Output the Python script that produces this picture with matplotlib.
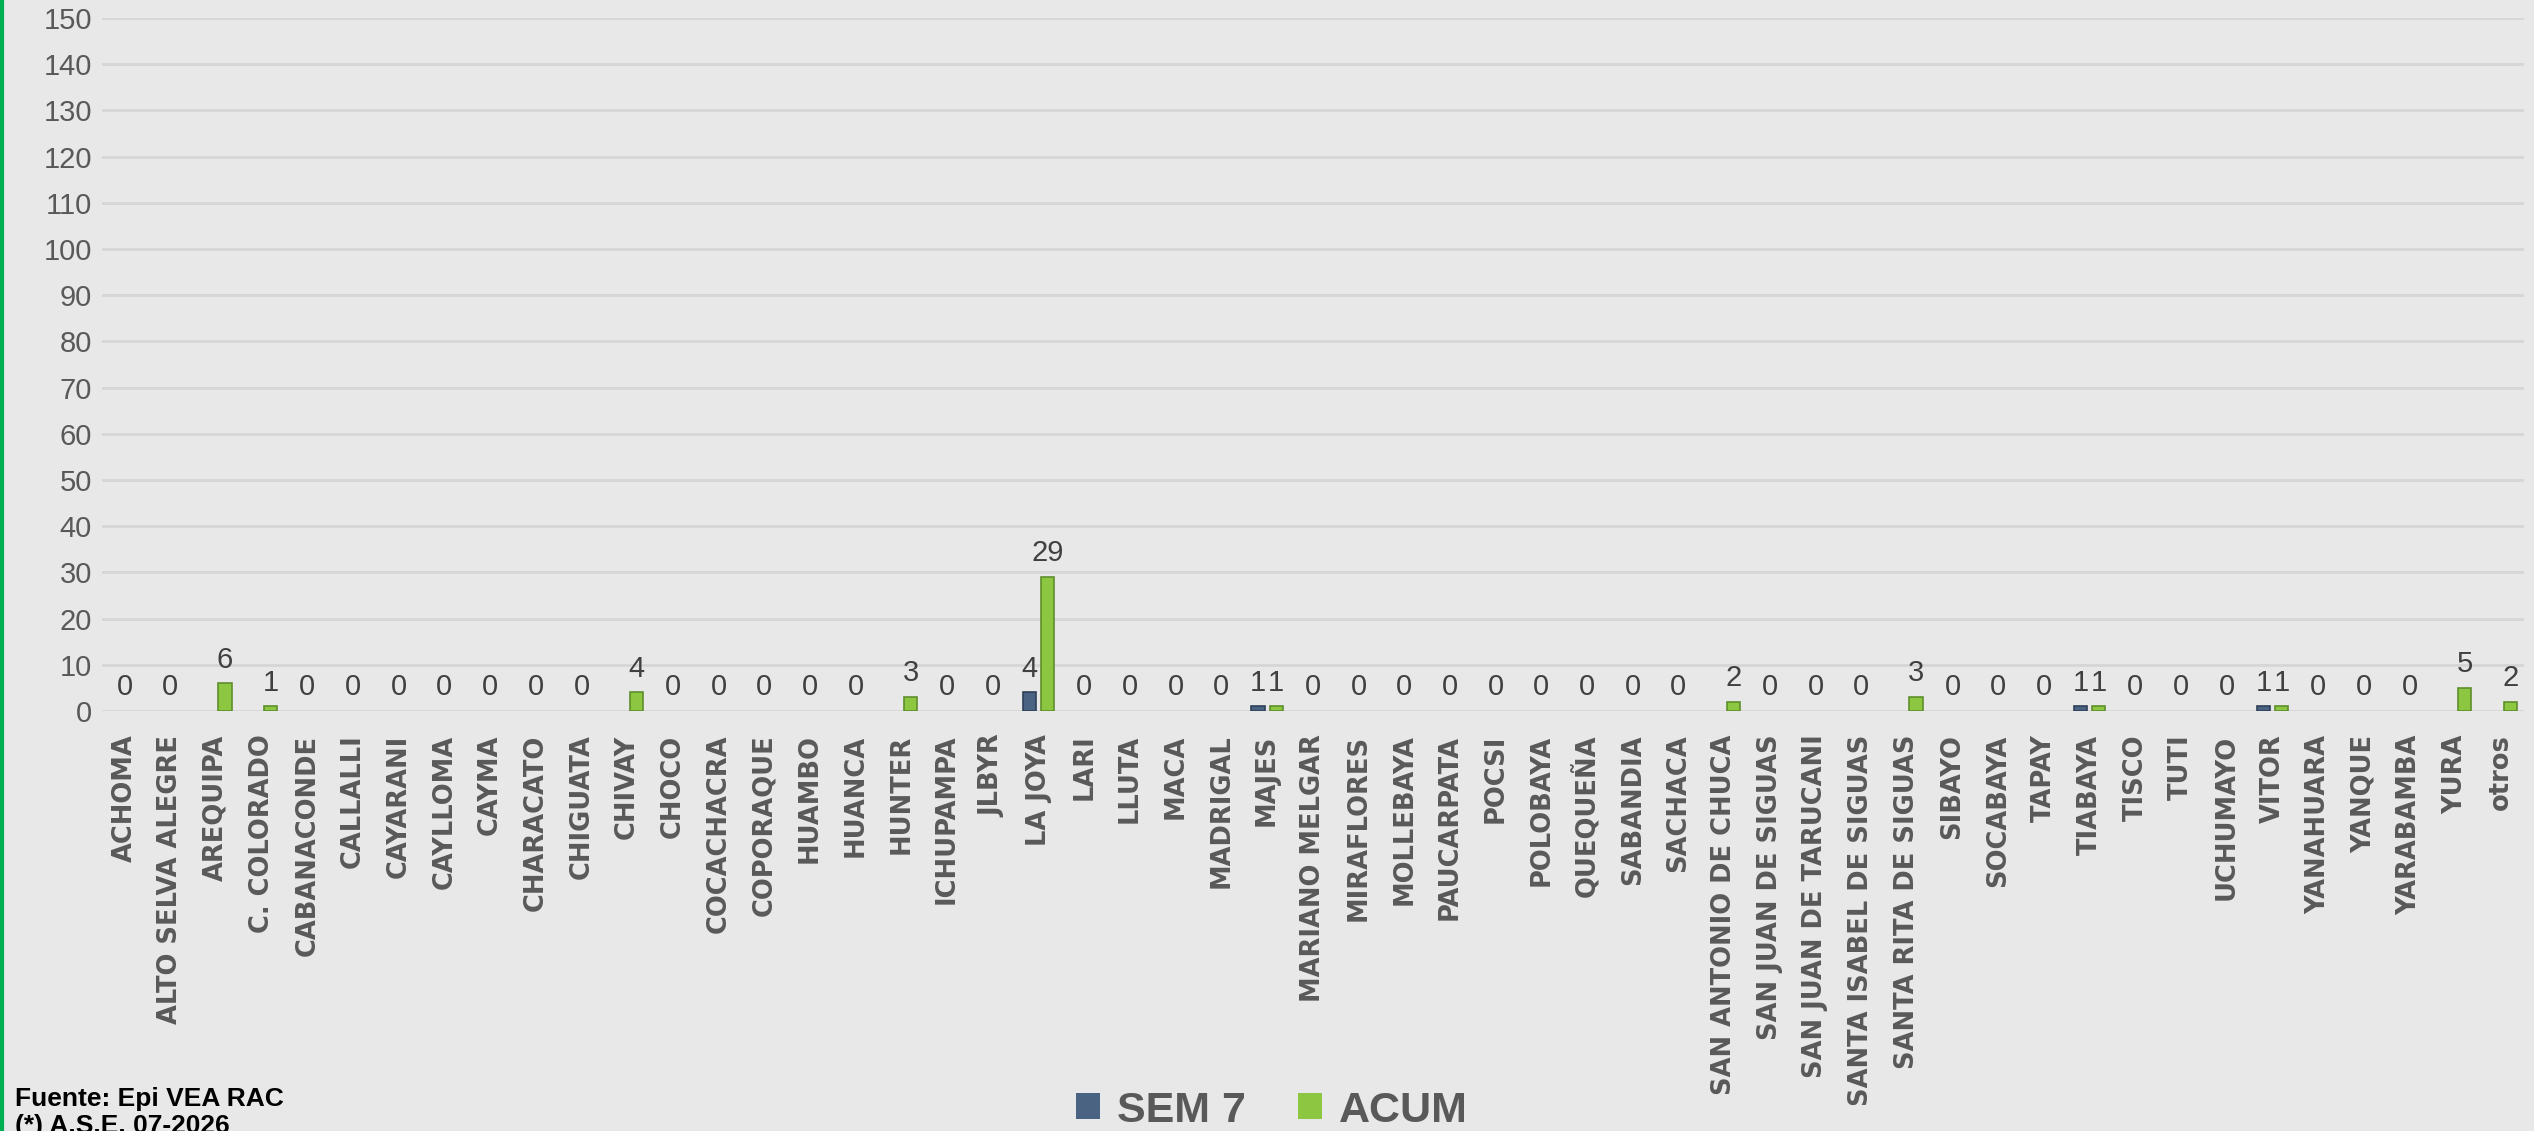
import numpy as np
import matplotlib.pyplot as plt

districts = ["ACHOMA", "ALTO SELVA ALEGRE", "AREQUIPA", "C. COLORADO", "CABANACONDE",
             "CALLALLI", "CAYARANI", "CAYLLOMA", "CAYMA", "CHARACATO", "CHIGUATA",
             "CHIVAY", "CHOCO", "COCACHACRA", "COPORAQUE", "HUAMBO", "HUANCA", "HUNTER",
             "ICHUPAMPA", "JLBYR", "LA JOYA", "LARI", "LLUTA", "MACA", "MADRIGAL",
             "MAJES", "MARIANO MELGAR", "MIRAFLORES", "MOLLEBAYA", "PAUCARPATA", "POCSI",
             "POLOBAYA", "QUEQUEÑA", "SABANDIA", "SACHACA", "SAN ANTONIO DE CHUCA",
             "SAN JUAN DE SIGUAS", "SAN JUAN DE TARUCANI", "SANTA ISABEL DE SIGUAS",
             "SANTA RITA DE SIGUAS", "SIBAYO", "SOCABAYA", "TAPAY", "TIABAYA", "TISCO",
             "TUTI", "UCHUMAYO", "VITOR", "YANAHUARA", "YANQUE", "YARABAMBA", "YURA",
             "otros"]

sem7 = [0, 0, 0, 0, 0, 0, 0, 0, 0, 0, 0, 0, 0, 0, 0, 0, 0, 0, 0, 0, 4, 0, 0, 0, 0,
        1, 0, 0, 0, 0, 0, 0, 0, 0, 0, 0, 0, 0, 0, 0, 0, 0, 0, 1, 0, 0, 0, 1, 0, 0, 0,
        0, 0]
acum = [0, 0, 6, 1, 0, 0, 0, 0, 0, 0, 0, 4, 0, 0, 0, 0, 0, 3, 0, 0, 29, 0, 0, 0, 0,
        1, 0, 0, 0, 0, 0, 0, 0, 0, 0, 2, 0, 0, 0, 3, 0, 0, 0, 1, 0, 0, 0, 1, 0, 0, 0,
        5, 2]

bg = "#e8e8e8"
txt = "#595959"
narrow = ["Liberation Sans", "DejaVu Sans"]

fig = plt.figure(figsize=(25.34, 11.31), dpi=100, facecolor=bg)
ax = fig.add_axes([0.0401, 0.3714, 0.9559, 0.6127], facecolor=bg)

x = np.arange(len(districts))
w = 0.29
off = 0.2
# zero values get no visible bar
ax.bar(x - off, sem7, w, color="#4a6383",
       edgecolor=["#2f4058" if v else "none" for v in sem7], linewidth=1.2, zorder=3,
       label="SEM 7")
ax.bar(x + off, acum, w, color="#8dc641",
       edgecolor=["#5e8f2c" if v else "none" for v in acum], linewidth=1.2, zorder=3,
       label="ACUM")

# data labels
lab = dict(textcoords="offset points", ha="center", va="center", fontsize=21,
           color="#404040", family=narrow)
for i in x:
    if sem7[i] == 0 and acum[i] == 0:
        ax.annotate("0", (i, 0), xytext=(0, 17), **lab)
        continue
    if sem7[i] != 0:
        ax.annotate(str(sem7[i]), (i - off, sem7[i]), xytext=(0, 17), **lab)
    if acum[i] != 0:
        ax.annotate(str(acum[i]), (i + off, acum[i]), xytext=(0, 17), **lab)

ax.set_xlim(-0.5, len(districts) - 0.5)
ax.set_ylim(0, 150)
ax.set_yticks(np.arange(0, 151, 10))
ax.set_yticklabels([str(v) for v in range(0, 151, 10)], family=narrow, fontsize=21, color=txt)
ax.set_xticks(x)
ax.set_xticklabels(districts, rotation=90, fontsize=18.5, fontweight="bold", color=txt,
                   family="DejaVu Sans")
ax.tick_params(axis="both", length=0)
ax.tick_params(axis="x", pad=17)
ax.tick_params(axis="y", pad=7)
ax.grid(axis="y", color="#d6d6d6", linewidth=2, zorder=0)
for s in ax.spines.values():
    s.set_visible(False)

leg = fig.legend(loc="center", bbox_to_anchor=(0.502, 0.018), ncol=2, frameon=False,
                 prop={"family": narrow, "size": 31, "weight": "bold"},
                 handlelength=0.55, handleheight=0.55, columnspacing=1.2, handletextpad=0.4)
for t in leg.get_texts():
    t.set_color(txt)

fig.text(0.006, 0.028, "Fuente: Epi VEA RAC", fontsize=19, fontweight="bold",
         family=narrow, color="black", va="center")
fig.text(0.006, 0.004, "(*) A.S.E. 07-2026", fontsize=19, fontweight="bold",
         family=narrow, color="black", va="center")

# green frame line on the left edge
fig.add_artist(plt.Line2D([0.0006, 0.0006], [0, 1], color="#00b050", linewidth=3,
                          transform=fig.transFigure))

fig.savefig("out.png", dpi=100, facecolor=bg)
